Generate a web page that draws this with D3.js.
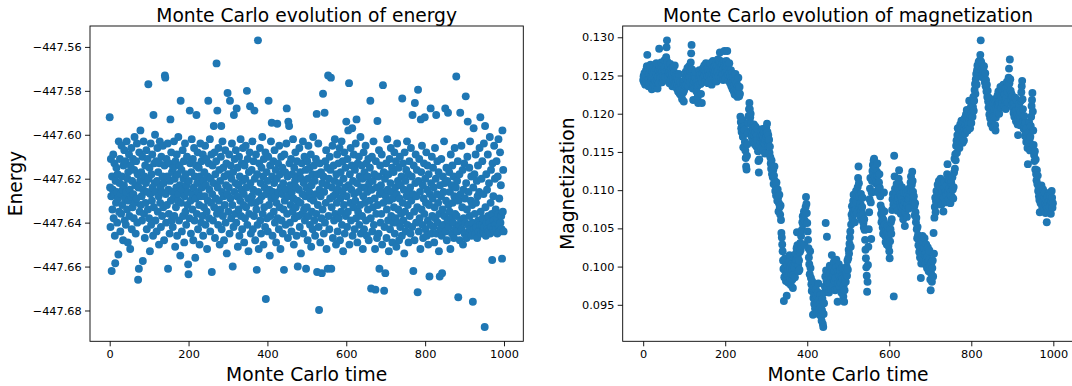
<!DOCTYPE html>
<html>
<head>
<meta charset="utf-8">
<script src="https://cdn.jsdelivr.net/npm/d3@7"></script>
<style>
  body { margin: 0; background: #fff; overflow: hidden; }
  svg { display: block; font-family: 'DejaVu Sans', sans-serif; }
  .tick text { font-family: 'DejaVu Sans', sans-serif; font-size: 11.3px; fill: #000; }
  .tick line { stroke: #000; stroke-width: 0.9; }
  .domain { display: none; }
</style>
</head>
<body>
<svg id="chart" width="1072" height="386"></svg>
<script>
// Energy per Monte Carlo step (t = 0..999)
const energy = [
  -447.592,-447.624,-447.642,-447.611,-447.628,-447.662,-447.619,-447.634,-447.625,-447.609,-447.638,-447.627,-447.613,-447.646,-447.6585,-447.621,-447.631,-447.615,-447.626,-447.640,
  -447.618,-447.629,-447.6545,-447.603,-447.635,-447.622,-447.611,-447.644,-447.627,-447.636,-447.605,-447.619,-447.632,-447.625,-447.648,-447.614,-447.623,-447.607,-447.639,-447.629,
  -447.612,-447.641,-447.626,-447.603,-447.634,-447.620,-447.649,-447.617,-447.630,-447.609,-447.637,-447.625,-447.652,-447.614,-447.628,-447.606,-447.643,-447.621,-447.633,-447.611,
  -447.627,-447.638,-447.616,-447.601,-447.631,-447.623,-447.645,-447.612,-447.629,-447.604,-447.640,-447.618,-447.666,-447.624,-447.661,-447.608,-447.635,-447.621,-447.598,-447.632,
  -447.617,-447.628,-447.639,-447.610,-447.6575,-447.625,-447.603,-447.636,-447.619,-447.647,-447.614,-447.631,-447.622,-447.607,-447.643,-447.626,-447.611,-447.634,-447.577,-447.620,
  -447.638,-447.615,-447.653,-447.627,-447.604,-447.641,-447.618,-447.630,-447.609,-447.624,-447.646,-447.591,-447.633,-447.613,-447.622,-447.600,-447.639,-447.626,-447.612,-447.644,
  -447.621,-447.606,-447.635,-447.617,-447.628,-447.650,-447.613,-447.603,-447.631,-447.624,-447.642,-447.610,-447.626,-447.637,-447.619,-447.605,-447.633,-447.622,-447.648,-447.614,
  -447.573,-447.574,-447.627,-447.640,-447.611,-447.632,-447.619,-447.604,-447.661,-447.625,-447.636,-447.613,-447.645,-447.621,-447.593,-447.630,-447.608,-447.639,-447.617,-447.626,
  -447.642,-447.615,-447.629,-447.603,-447.637,-447.620,-447.651,-447.612,-447.633,-447.624,-447.609,-447.646,-447.618,-447.630,-447.601,-447.627,-447.639,-447.614,-447.623,-447.655,
  -447.5845,-447.631,-447.616,-447.644,-447.625,-447.607,-447.637,-447.620,-447.612,-447.649,-447.628,-447.604,-447.635,-447.618,-447.641,-447.623,-447.610,-447.632,-447.626,-447.659,
  -447.6635,-447.621,-447.638,-447.589,-447.613,-447.630,-447.645,-447.617,-447.602,-447.627,-447.634,-447.611,-447.648,-447.624,-447.606,-447.639,-447.619,-447.656,-447.629,-447.614,
  -447.591,-447.636,-447.622,-447.608,-447.643,-447.626,-447.615,-447.632,-447.650,-447.619,-447.604,-447.628,-447.640,-447.612,-447.624,-447.637,-447.609,-447.646,-447.621,-447.633,
  -447.617,-447.628,-447.605,-447.641,-447.623,-447.611,-447.635,-447.652,-447.619,-447.630,-447.5845,-447.613,-447.638,-447.625,-447.602,-447.644,-447.620,-447.631,-447.609,-447.6625,
  -447.627,-447.614,-447.639,-447.622,-447.596,-447.633,-447.608,-447.647,-447.618,-447.629,-447.612,-447.5675,-447.636,-447.589,-447.624,-447.641,-447.606,-447.630,-447.616,-447.650,
  -447.621,-447.634,-447.610,-447.596,-447.643,-447.626,-447.603,-447.637,-447.615,-447.628,-447.648,-447.619,-447.632,-447.607,-447.640,-447.623,-447.613,-447.654,-447.627,-447.581,
  -447.618,-447.635,-447.624,-447.609,-447.645,-447.5845,-447.629,-447.614,-447.638,-447.620,-447.604,-447.632,-447.660,-447.617,-447.642,-447.591,-447.626,-447.611,-447.636,-447.622,
  -447.607,-447.640,-447.588,-447.628,-447.615,-447.651,-447.623,-447.634,-447.610,-447.646,-447.619,-447.630,-447.602,-447.637,-447.625,-447.613,-447.643,-447.621,-447.606,-447.632,
  -447.627,-447.649,-447.614,-447.638,-447.620,-447.605,-447.633,-447.624,-447.580,-447.641,-447.611,-447.629,-447.653,-447.617,-447.636,-447.608,-447.587,-447.622,-447.645,-447.631,
  -447.616,-447.628,-447.603,-447.643,-447.625,-447.612,-447.637,-447.589,-447.620,-447.648,-447.631,-447.609,-447.634,-447.6615,-447.618,-447.641,-447.557,-447.626,-447.652,-447.613,
  -447.630,-447.606,-447.639,-447.622,-447.645,-447.615,-447.628,-447.601,-447.636,-447.619,-447.650,-447.611,-447.633,-447.624,-447.642,-447.608,-447.6748,-447.627,-447.617,-447.638,
  -447.621,-447.644,-447.610,-447.5845,-447.632,-447.625,-447.655,-447.614,-447.637,-447.603,-447.629,-447.5945,-447.619,-447.646,-447.626,-447.612,-447.635,-447.622,-447.607,-447.640,
  -447.628,-447.616,-447.649,-447.631,-447.620,-447.595,-447.638,-447.613,-447.626,-447.643,-447.605,-447.633,-447.618,-447.652,-447.624,-447.610,-447.639,-447.627,-447.615,-447.645,
  -447.622,-447.634,-447.6615,-447.609,-447.630,-447.617,-447.641,-447.625,-447.604,-447.588,-447.636,-447.619,-447.647,-447.594,-447.628,-447.596,-447.613,-447.640,-447.623,-447.632,
  -447.611,-447.644,-447.626,-447.618,-447.635,-447.602,-447.629,-447.650,-447.615,-447.638,-447.621,-447.608,-447.633,-447.624,-447.646,-447.612,-447.630,-447.660,-447.619,-447.637,
  -447.625,-447.606,-447.642,-447.617,-447.631,-447.654,-447.620,-447.613,-447.636,-447.627,-447.603,-447.645,-447.622,-447.634,-447.610,-447.639,-447.628,-447.616,-447.661,-447.624,
  -447.633,-447.612,-447.648,-447.620,-447.605,-447.637,-447.626,-447.615,-447.641,-447.629,-447.609,-447.651,-447.623,-447.635,-447.618,-447.643,-447.601,-447.630,-447.614,-447.639,
  -447.621,-447.646,-447.627,-447.611,-447.636,-447.5905,-447.6625,-447.618,-447.632,-447.604,-447.642,-447.6798,-447.625,-447.613,-447.649,-447.628,-447.617,-447.638,-447.663,-447.622,
  -447.634,-447.5813,-447.619,-447.645,-447.626,-447.590,-447.640,-447.612,-447.631,-447.607,-447.652,-447.623,-447.615,-447.661,-447.573,-447.637,-447.620,-447.643,-447.610,-447.629,
  -447.616,-447.574,-447.661,-447.633,-447.624,-447.605,-447.647,-447.628,-447.614,-447.639,-447.621,-447.602,-447.636,-447.627,-447.650,-447.618,-447.631,-447.609,-447.644,-447.625,
  -447.613,-447.638,-447.622,-447.606,-447.648,-447.629,-447.617,-447.635,-447.603,-447.641,-447.626,-447.612,-447.653,-447.620,-447.632,-447.608,-447.645,-447.624,-447.615,-447.637,
  -447.594,-447.628,-447.642,-447.611,-447.635,-447.598,-447.623,-447.5765,-447.650,-447.618,-447.631,-447.606,-447.639,-447.625,-447.614,-447.597,-447.646,-447.621,-447.633,-447.609,
  -447.627,-447.643,-447.616,-447.630,-447.604,-447.638,-447.593,-447.622,-447.649,-447.613,-447.635,-447.626,-447.610,-447.641,-447.619,-447.632,-447.601,-447.645,-447.624,-447.614,
  -447.637,-447.620,-447.652,-447.628,-447.608,-447.643,-447.617,-447.631,-447.624,-447.605,-447.639,-447.613,-447.646,-447.626,-447.619,-447.634,-447.611,-447.648,-447.622,-447.630,
  -447.615,-447.5845,-447.638,-447.670,-447.625,-447.610,-447.644,-447.621,-447.633,-447.603,-447.641,-447.618,-447.629,-447.652,-447.6705,-447.612,-447.636,-447.624,-447.647,-447.5937,
  -447.632,-447.619,-447.645,-447.607,-447.661,-447.627,-447.614,-447.640,-447.623,-447.636,-447.609,-447.650,-447.626,-447.5774,-447.631,-447.617,-447.671,-447.642,-447.620,-447.663,
  -447.628,-447.613,-447.647,-447.634,-447.602,-447.625,-447.639,-447.618,-447.653,-447.630,-447.611,-447.643,-447.622,-447.606,-447.637,-447.626,-447.615,-447.649,-447.629,-447.640,
  -447.617,-447.633,-447.608,-447.645,-447.624,-447.638,-447.612,-447.651,-447.627,-447.604,-447.640,-447.621,-447.634,-447.615,-447.648,-447.629,-447.610,-447.642,-447.623,-447.636,
  -447.619,-447.646,-447.5835,-447.631,-447.613,-447.639,-447.625,-447.654,-447.608,-447.635,-447.621,-447.644,-447.616,-447.628,-447.603,-447.641,-447.632,-447.618,-447.649,-447.626,
  -447.612,-447.637,-447.624,-447.645,-447.606,-447.630,-447.619,-447.642,-447.591,-447.627,-447.662,-447.614,-447.635,-447.648,-447.5855,-447.622,-447.609,-447.640,-447.628,-447.616,
  -447.633,-447.6717,-447.5795,-447.621,-447.644,-447.611,-447.638,-447.626,-447.652,-447.593,-447.617,-447.634,-447.605,-447.641,-447.623,-447.647,-447.629,-447.613,-447.636,-447.592,
  -447.620,-447.643,-447.631,-447.608,-447.646,-447.625,-447.614,-447.639,-447.650,-447.618,-447.632,-447.6645,-447.627,-447.641,-447.588,-447.622,-447.645,-447.610,-447.637,-447.629,
  -447.615,-447.642,-447.624,-447.649,-447.633,-447.606,-447.638,-447.620,-447.591,-447.645,-447.627,-447.612,-447.640,-447.631,-447.617,-447.653,-447.636,-447.6645,-447.623,-447.643,
  -447.628,-447.611,-447.646,-447.663,-447.634,-447.619,-447.641,-447.626,-447.603,-447.637,-447.622,-447.588,-447.644,-447.630,-447.615,-447.648,-447.621,-447.639,-447.590,-447.632,
  -447.642,-447.617,-447.635,-447.626,-447.652,-447.609,-447.638,-447.623,-447.645,-447.614,-447.631,-447.640,-447.619,-447.647,-447.628,-447.606,-447.636,-447.643,-447.624,-447.5735,
  -447.637,-447.621,-447.644,-447.612,-447.674,-447.630,-447.641,-447.618,-447.648,-447.590,-447.627,-447.639,-447.605,-447.643,-447.633,-447.616,-447.650,-447.625,-447.638,-447.613,
  -447.645,-447.629,-447.640,-447.5825,-447.622,-447.647,-447.634,-447.610,-447.594,-447.641,-447.626,-447.644,-447.615,-447.637,-447.603,-447.643,-447.630,-447.619,-447.646,-447.632,
  -447.640,-447.676,-447.624,-447.597,-447.643,-447.618,-447.636,-447.645,-447.609,-447.631,-447.642,-447.621,-447.647,-447.628,-447.614,-447.639,-447.644,-447.626,-447.606,-447.641,
  -447.592,-447.635,-447.645,-447.620,-447.641,-447.612,-447.638,-447.644,-447.627,-447.604,-447.642,-447.6875,-447.596,-447.633,-447.646,-447.618,-447.640,-447.625,-447.643,-447.609,
  -447.637,-447.644,-447.622,-447.640,-447.601,-447.645,-447.631,-447.616,-447.642,-447.636,-447.657,-447.613,-447.643,-447.628,-447.639,-447.605,-447.644,-447.620,-447.641,-447.634,
  -447.643,-447.612,-447.638,-447.645,-447.619,-447.636,-447.602,-447.642,-447.629,-447.644,-447.608,-447.640,-447.623,-447.637,-447.643,-447.6564,-447.598,-447.635,-447.616,-447.644
];

// Magnetization per Monte Carlo step (t = 0..999)
const magnetization = [
  0.1244,0.1249,0.1241,0.1253,0.1246,0.1238,0.1251,0.1257,0.1243,0.1262,0.1277,0.1255,0.1248,0.1236,0.1245,0.1252,0.1240,0.1258,0.1264,0.1249,
  0.1243,0.1232,0.1247,0.1255,0.1261,0.1250,0.1238,0.1245,0.1256,0.1234,0.1242,0.1259,0.1266,0.1251,0.1244,0.1233,0.1248,0.1257,0.1240,0.1285,
  0.1262,0.1253,0.1246,0.1258,0.1267,0.1249,0.1241,0.1255,0.1263,0.1250,0.1244,0.1259,0.1270,0.1256,0.1248,0.1261,0.1274,0.1287,0.1296,0.1268,
  0.1258,0.1249,0.1262,0.1253,0.1240,0.1257,0.1265,0.1251,0.1244,0.1259,0.1248,0.1236,0.1252,0.1261,0.1245,0.1238,0.1254,0.1263,0.1247,0.1239,
  0.1250,0.1242,0.1233,0.1246,0.1238,0.1229,0.1244,0.1252,0.1235,0.1226,0.1241,0.1232,0.1224,0.1237,0.1225,0.1219,0.1233,0.1242,0.1228,0.1216,
  0.1231,0.1243,0.1237,0.1249,0.1255,0.1246,0.1238,0.1251,0.1260,0.1244,0.1236,0.1253,0.1262,0.1248,0.1241,0.1256,0.1267,0.1279,0.1290,0.1258,
  0.1245,0.1233,0.1218,0.1239,0.1250,0.1242,0.1234,0.1247,0.1255,0.1240,0.1229,0.1243,0.1236,0.1222,0.1214,0.1238,0.1249,0.1257,0.1244,0.1251,
  0.1239,0.1226,0.1246,0.1214,0.1241,0.1253,0.1260,0.1247,0.1255,0.1263,0.1250,0.1242,0.1257,0.1266,0.1254,0.1245,0.1259,0.1249,0.1240,0.1256,
  0.1262,0.1251,0.1243,0.1258,0.1266,0.1255,0.1247,0.1238,0.1252,0.1260,0.1269,0.1257,0.1248,0.1261,0.1253,0.1244,0.1256,0.1264,0.1250,0.1242,
  0.1255,0.1263,0.1271,0.1258,0.1249,0.1262,0.1270,0.1280,0.1266,0.1254,0.1261,0.1247,0.1256,0.1265,0.1252,0.1244,0.1259,0.1268,0.1282,0.1263,
  0.1255,0.1246,0.1260,0.1269,0.1257,0.1282,0.1264,0.1251,0.1243,0.1258,0.1266,0.1254,0.1240,0.1249,0.1257,0.1236,0.1245,0.1253,0.1232,0.1241,
  0.1248,0.1229,0.1238,0.1225,0.1244,0.1252,0.1233,0.1224,0.1240,0.1231,0.1222,0.1236,0.1247,0.1228,0.1223,0.1235,0.1226,0.1196,0.1189,0.1181,
  0.1176,0.1185,0.1192,0.1170,0.1156,0.1173,0.1184,0.1179,0.1163,0.1152,0.1142,0.1131,0.1127,0.1145,0.1160,0.1174,0.1188,0.1197,0.1206,0.1214,
  0.1206,0.1195,0.1200,0.1187,0.1178,0.1169,0.1182,0.1174,0.1165,0.1179,0.1186,0.1171,0.1160,0.1176,0.1183,0.1168,0.1157,0.1172,0.1180,0.1166,
  0.1151,0.1138,0.1123,0.1140,0.1158,0.1170,0.1163,0.1177,0.1168,0.1155,0.1171,0.1180,0.1165,0.1152,0.1169,0.1176,0.1161,0.1148,0.1166,0.1175,
  0.1182,0.1170,0.1187,0.1176,0.1163,0.1172,0.1158,0.1166,0.1149,0.1157,0.1143,0.1135,0.1128,0.1139,0.1121,0.1131,0.1117,0.1126,0.1108,0.1119,
  0.1131,0.1112,0.1099,0.1105,0.1093,0.1110,0.1097,0.1086,0.1101,0.1090,0.1072,0.1083,0.1094,0.1078,0.1068,0.1080,0.1061,0.1044,0.1038,0.1029,
  0.1020,0.1008,0.0997,0.0955,0.0986,0.0999,0.1011,0.0993,0.0981,0.1004,0.0962,0.0990,0.1002,0.0994,0.0979,0.0988,0.1006,0.1015,0.0997,0.0984,
  0.0976,0.0991,0.1003,0.0995,0.0983,0.0972,0.0989,0.1001,0.1012,0.0998,0.0986,0.1005,0.1017,0.1009,0.1024,0.1045,0.1028,0.1013,0.1002,0.0994,
  0.1008,0.0996,0.1019,0.1031,0.1022,0.1040,0.1027,0.1048,0.1058,0.1066,0.1055,0.1063,0.1072,0.1029,0.1060,0.1069,0.1078,0.1091,0.1082,0.1070,
  0.1057,0.1046,0.1035,0.1024,0.1012,0.1003,0.0990,0.1020,0.0998,0.0985,0.0977,0.0968,0.0981,0.0972,0.0937,0.0959,0.0966,0.0951,0.0963,0.0945,
  0.0958,0.0970,0.0949,0.0962,0.0953,0.0941,0.0966,0.0978,0.0956,0.0944,0.0937,0.0951,0.0963,0.0947,0.0935,0.0929,0.0943,0.0958,0.0925,0.0921,
  0.0938,0.0952,0.0966,0.0974,0.0987,0.1057,0.0995,0.0981,0.1039,0.0972,0.0983,0.0995,0.0978,0.0966,0.0989,0.1001,0.0992,0.0980,0.0970,0.0986,
  0.1015,0.0998,0.0987,0.0975,0.0990,0.1006,0.0994,0.0981,0.0969,0.0985,0.0999,0.1009,0.0993,0.0971,0.0954,0.0978,0.0991,0.1003,0.0988,0.0974,
  0.0982,0.0995,0.0979,0.0966,0.0987,0.0998,0.0984,0.0972,0.0961,0.0976,0.0954,0.0969,0.0983,0.0994,0.0980,0.0991,0.1000,0.0988,0.1008,0.0996,
  0.1011,0.1022,0.1017,0.1030,0.1038,0.1046,0.1026,0.1055,0.1068,0.1079,0.1063,0.1072,0.1086,0.1094,0.1081,0.1069,0.1058,0.1074,0.1088,0.1099,
  0.1085,0.1071,0.1092,0.1104,0.1116,0.1131,0.1109,0.1093,0.1077,0.1066,0.1082,0.1095,0.1073,0.1061,0.1078,0.1090,0.1068,0.1057,0.1051,0.1062,
  0.1048,0.1035,0.1022,0.1011,0.0999,0.0988,0.0967,0.0980,0.1002,0.1026,0.1049,0.1071,0.1088,0.1102,0.1116,0.1084,0.1036,0.1097,0.1112,0.1125,
  0.1133,0.1121,0.1139,0.1141,0.1128,0.1117,0.1130,0.1109,0.1098,0.1112,0.1124,0.1135,0.1119,0.1106,0.1097,0.1110,0.1121,0.1103,0.1092,0.1080,
  0.1069,0.1058,0.1075,0.1064,0.1051,0.1043,0.1061,0.1097,0.1072,0.1055,0.1040,0.1032,0.1047,0.1038,0.1029,0.1044,0.1053,0.1036,0.1027,0.1041,
  0.1020,0.1011,0.1033,0.1049,0.1058,0.1043,0.1062,0.1074,0.1088,0.1095,0.1081,0.0961,0.1145,0.1118,0.1102,0.1091,0.1079,0.1097,0.1108,0.1086,
  0.1073,0.1090,0.1102,0.1115,0.1126,0.1108,0.1094,0.1083,0.1069,0.1078,0.1091,0.1104,0.1087,0.1075,0.1062,0.1080,0.1097,0.1085,0.1053,0.1071,
  0.1084,0.1096,0.1077,0.1065,0.1082,0.1093,0.1101,0.1088,0.1076,0.1090,0.1103,0.1095,0.1110,0.1118,0.1099,0.1107,0.1124,0.1112,0.1098,0.1086,
  0.1092,0.1079,0.1067,0.1083,0.1071,0.1058,0.1064,0.1049,0.1037,0.1052,0.1041,0.1028,0.1035,0.1019,0.1026,0.1012,0.1030,0.0985,0.1004,0.1016,
  0.1027,0.1040,0.1033,0.1021,0.1010,0.1024,0.1037,0.1015,0.1003,0.1018,0.1029,0.1011,0.0998,0.1013,0.1025,0.1006,0.0994,0.1009,0.1021,0.1002,
  0.0983,0.0969,0.0991,0.1005,0.0980,0.0998,0.1008,0.0987,0.1044,0.1017,0.1064,0.1078,0.1090,0.1071,0.1085,0.1099,0.1082,0.1094,0.1107,0.1089,
  0.1101,0.1112,0.1093,0.1086,0.1104,0.1115,0.1096,0.1081,0.1092,0.1108,0.1099,0.1087,0.1072,0.1090,0.1103,0.1111,0.1097,0.1084,0.1100,0.1094,
  0.1106,0.1121,0.1134,0.1115,0.1098,0.1088,0.1102,0.1113,0.1095,0.1083,0.1099,0.1110,0.1092,0.1105,0.1117,0.1101,0.1089,0.1104,0.1123,0.1141,
  0.1128,0.1147,0.1139,0.1158,0.1165,0.1149,0.1172,0.1181,0.1160,0.1168,0.1177,0.1155,0.1173,0.1186,0.1164,0.1179,0.1191,0.1170,0.1183,0.1162,
  0.1176,0.1188,0.1165,0.1182,0.1194,0.1174,0.1185,0.1199,0.1180,0.1205,0.1191,0.1178,0.1196,0.1186,0.1202,0.1217,0.1193,0.1181,0.1198,0.1209,
  0.1188,0.1201,0.1213,0.1196,0.1209,0.1222,0.1204,0.1217,0.1231,0.1239,0.1226,0.1245,0.1252,0.1238,0.1257,0.1263,0.1249,0.1260,0.1268,0.1255,
  0.1262,0.1270,0.1277,0.1296,0.1268,0.1257,0.1264,0.1251,0.1259,0.1247,0.1255,0.1262,0.1249,0.1241,0.1253,0.1236,0.1244,0.1229,0.1238,0.1222,
  0.1230,0.1216,0.1208,0.1221,0.1199,0.1211,0.1194,0.1203,0.1187,0.1198,0.1210,0.1192,0.1182,0.1201,0.1214,0.1196,0.1206,0.1219,0.1185,0.1178,
  0.1195,0.1207,0.1218,0.1203,0.1224,0.1212,0.1229,0.1216,0.1200,0.1213,0.1226,0.1235,0.1219,0.1208,0.1222,0.1231,0.1214,0.1227,0.1238,0.1221,
  0.1210,0.1225,0.1233,0.1218,0.1206,0.1220,0.1234,0.1242,0.1228,0.1215,0.1236,0.1247,0.1259,0.1240,0.1271,0.1245,0.1230,0.1219,0.1226,0.1211,
  0.1223,0.1208,0.1216,0.1201,0.1214,0.1196,0.1209,0.1221,0.1203,0.1190,0.1205,0.1218,0.1199,0.1186,0.1172,0.1194,0.1207,0.1213,0.1198,0.1185,
  0.1202,0.1217,0.1228,0.1236,0.1243,0.1219,0.1206,0.1191,0.1180,0.1197,0.1184,0.1171,0.1188,0.1176,0.1163,0.1181,0.1168,0.1155,0.1134,0.1162,
  0.1175,0.1189,0.1166,0.1152,0.1170,0.1184,0.1196,0.1210,0.1218,0.1227,0.1203,0.1178,0.1159,0.1146,0.1138,0.1151,0.1127,0.1140,0.1121,0.1113,
  0.1126,0.1108,0.1119,0.1099,0.1104,0.1092,0.1087,0.1071,0.1098,0.1083,0.1095,0.1106,0.1089,0.1078,0.1093,0.1101,0.1085,0.1074,0.1090,0.1097,
  0.1082,0.1070,0.1088,0.1079,0.1058,0.1076,0.1091,0.1084,0.1072,0.1096,0.1087,0.1078,0.1093,0.1081,0.1069,0.1085,0.1099,0.1090,0.1077,0.1083
];

const xTicks = [0, 200, 400, 600, 800, 1000];
const energyTicks = [-447.68, -447.66, -447.64, -447.62, -447.60, -447.58, -447.56];
const magTicks = [0.095, 0.100, 0.105, 0.110, 0.115, 0.120, 0.125, 0.130];

const color = '#1f77b4';
const svg = d3.select('#chart');

// matplotlib style autoscale: data extent plus 5% each side
function padded(ext) {
  const m = (ext[1] - ext[0]) * 0.05;
  return [ext[0] - m, ext[1] + m];
}

function panel(opts) {
  const { left, right, top, bottom, values, yTicks, yFmt, title, ylabel, ylabelX, id } = opts;
  const g = svg.append('g');

  const x = d3.scaleLinear()
    .domain(padded([0, values.length - 1]))
    .range([left, right]);
  const y = d3.scaleLinear()
    .domain(padded(d3.extent(values)))
    .range([bottom, top]);

  svg.append('clipPath').attr('id', id)
    .append('rect')
    .attr('x', left).attr('y', top)
    .attr('width', right - left).attr('height', bottom - top);

  g.append('g')
    .attr('clip-path', `url(#${id})`)
    .selectAll('circle')
    .data(values)
    .join('circle')
    .attr('cx', (d, i) => x(i))
    .attr('cy', d => y(d))
    .attr('r', 3.95)
    .attr('fill', color);

  g.append('g')
    .attr('transform', `translate(0,${bottom})`)
    .call(d3.axisBottom(x).tickValues(xTicks).tickFormat(d3.format('d')).tickSize(5).tickPadding(4));

  g.append('g')
    .attr('transform', `translate(${left},0)`)
    .call(d3.axisLeft(y).tickValues(yTicks).tickFormat(d3.format(yFmt)).tickSize(5).tickPadding(3.3));

  // frame
  g.append('rect')
    .attr('x', left).attr('y', top)
    .attr('width', right - left).attr('height', bottom - top)
    .attr('fill', 'none')
    .attr('stroke', '#000')
    .attr('stroke-width', 0.9);

  g.append('text')
    .attr('x', (left + right) / 2)
    .attr('y', 21.5)
    .attr('text-anchor', 'middle')
    .attr('font-size', 18.7)
    .text(title);

  g.append('text')
    .attr('x', (left + right) / 2)
    .attr('y', 381)
    .attr('text-anchor', 'middle')
    .attr('font-size', 18.7)
    .text('Monte Carlo time');

  g.append('text')
    .attr('transform', `translate(${ylabelX},${(top + bottom) / 2}) rotate(-90)`)
    .attr('text-anchor', 'middle')
    .attr('font-size', 18.7)
    .text(ylabel);
}

panel({
  id: 'clip-energy',
  left: 90, right: 523.3, top: 26, bottom: 341.3,
  values: energy, yTicks: energyTicks, yFmt: '.2f',
  title: 'Monte Carlo evolution of energy', ylabel: 'Energy', ylabelX: 21.5
});

// the right panel runs a little past the edge of the figure, as in the source
panel({
  id: 'clip-mag',
  left: 622.7, right: 1073.4, top: 26, bottom: 341.3,
  values: magnetization, yTicks: magTicks, yFmt: '.3f',
  title: 'Monte Carlo evolution of magnetization', ylabel: 'Magnetization', ylabelX: 573.5
});
</script>
</body>
</html>
